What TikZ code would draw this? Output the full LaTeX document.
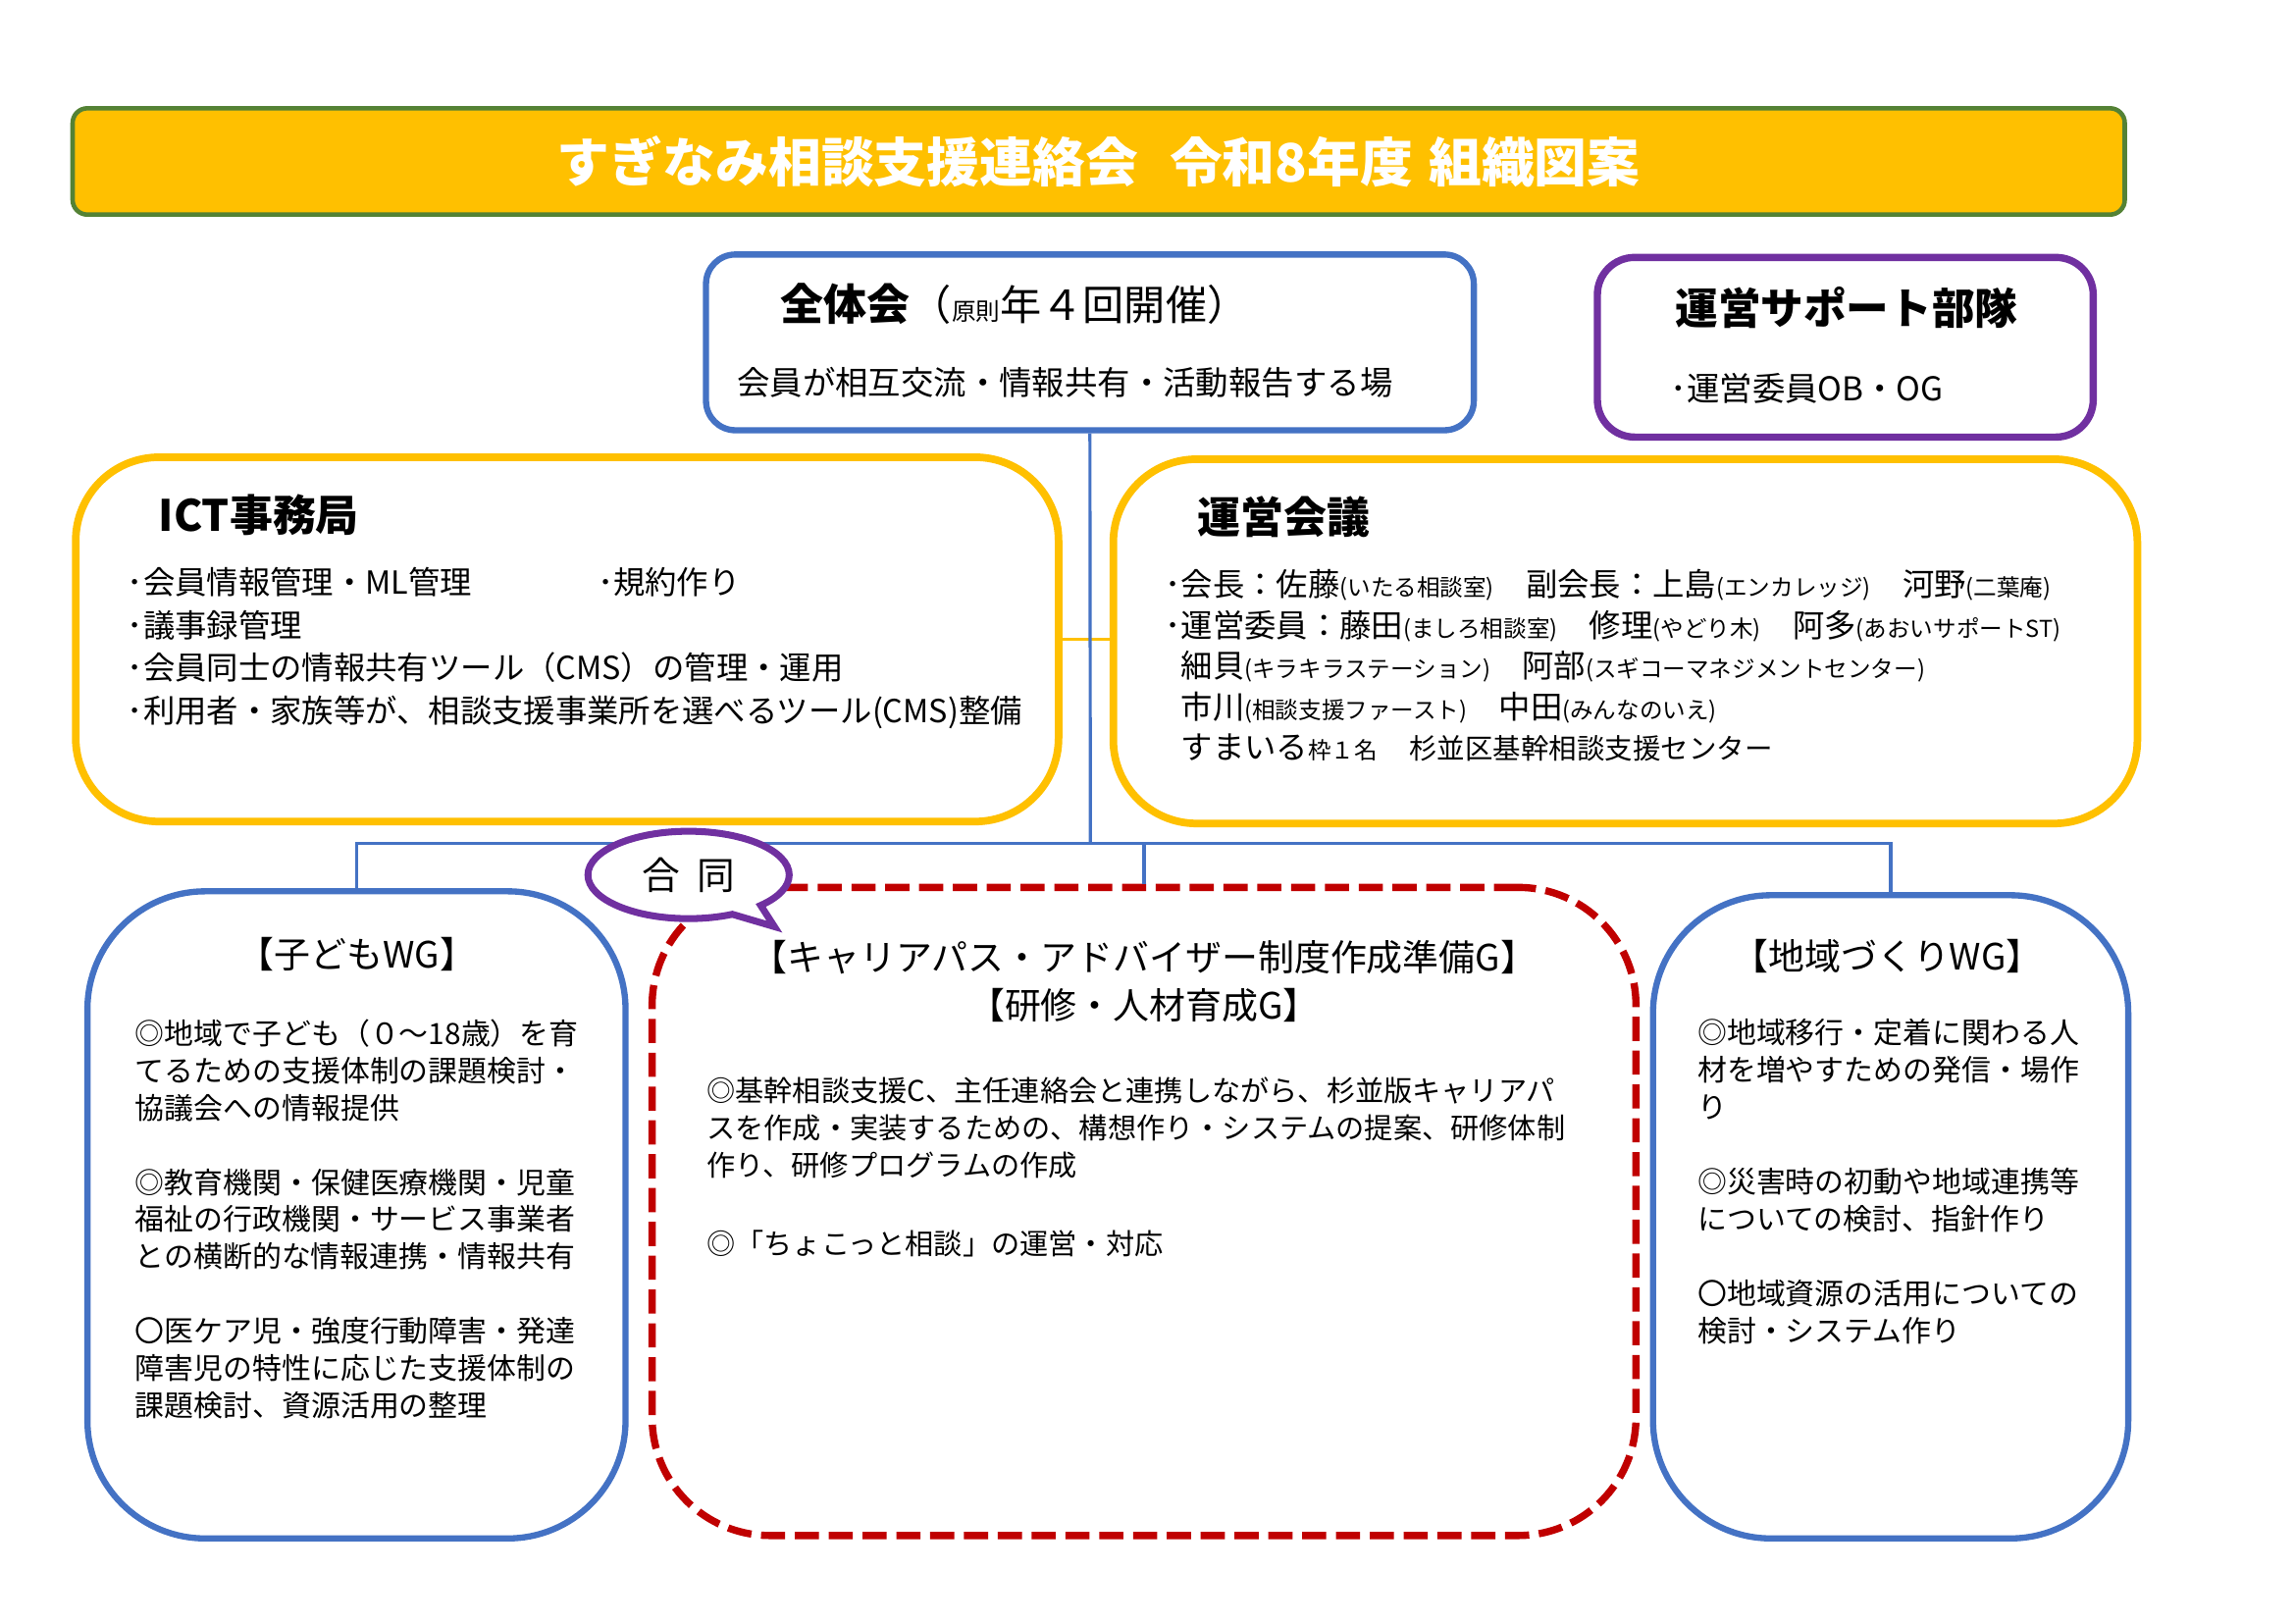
\documentclass[tikz,border=0pt]{standalone}
\usepackage{fontspec}
\setmainfont{Noto Sans CJK JP}
\usetikzlibrary{shapes.callouts}
\definecolor{cBlue}{HTML}{4472C4}
\definecolor{cYel}{HTML}{FFC000}
\definecolor{cPur}{HTML}{7030A0}
\definecolor{cRed}{HTML}{C00000}
\definecolor{cGrn}{HTML}{548235}
\newcommand\smtext[1]{{\fontsize{6.7}{8}\selectfont #1}}
\begin{document}
\begin{tikzpicture}[x=0.00994cm,y=-0.00994cm,
  box/.style={inner sep=0pt, fill=white},
  bluebox/.style={box, draw=cBlue, line width=1.8pt},
  yelbox/.style={box, draw=cYel, line width=2.2pt, rounded corners=0.85cm},
  head/.style={anchor=west, inner sep=0pt, font=\fontsize{12.5}{15}\selectfont\bfseries},
  line1/.style={anchor=west, inner sep=0pt},
  txt/.style={anchor=north west, inner sep=0pt, align=left},
  wg/.style={txt, font=\fontsize{8.5}{10.8}\selectfont},
  wgtitle/.style={inner sep=0pt, font=\fontsize{10.5}{14.2}\selectfont, align=center},
  conn/.style={draw=cBlue, line width=0.9pt},
  yconn/.style={draw=cYel, line width=0.9pt}]
\useasboundingbox (0,0) rectangle (2352.1,1664.0);

% title bar
\node[box, draw=cGrn, fill=cYel, line width=1.3pt, rounded corners=0.15cm,
  minimum width=20.90cm, minimum height=1.083cm,
  font=\fontsize{15.3}{18}\selectfont\bfseries, text=white] (title) at (1126.5,165.5)
  {すぎなみ相談支援連絡会\hspace{0.6em}令和8年度\hspace{0.3em}組織図案};

% 全体会
\node[bluebox, rounded corners=0.3cm, minimum width=7.82cm, minimum height=1.79cm] (zentai) at (1117.5,351) {};
\node[line1] (zentaiT) at (800,312) {{\fontsize{12.5}{15}\selectfont\bfseries 全体会}{\fontsize{12}{15}\selectfont （}{\fontsize{7}{9}\selectfont 原則}{\fontsize{12}{15}\selectfont 年４回開催）}};
\node[line1, font=\fontsize{9.5}{12}\selectfont] (zentaiD) at (755,392) {会員が相互交流・情報共有・活動報告する場};

% 運営サポート部隊
\node[box, draw=cPur, line width=2.1pt, rounded corners=0.38cm, minimum width=5.05cm, minimum height=1.83cm] (support) at (1892,356) {};
\node[head, font=\fontsize{12.4}{15}\selectfont\bfseries] (supportT) at (1717,315) {運営サポート部隊};
\node[line1, font=\fontsize{9.5}{12}\selectfont] (supportD) at (1712,398) {･運営委員OB・OG};

% ICT事務局
\node[yelbox, minimum width=10.01cm, minimum height=3.71cm] (ict) at (581.5,655.5) {};
\node[head] (ictT) at (162,528) {ICT事務局};
\node[txt, font=\fontsize{9.2}{12.4}\selectfont] (ictD) at (130,581)
  {･会員情報管理・ML管理\\･議事録管理\\･会員同士の情報共有ツール（CMS）の管理・運用\\･利用者・家族等が、相談支援事業所を選べるツール(CMS)整備};
\node[line1, font=\fontsize{9.2}{12.4}\selectfont] (ictD2) at (612,597) {･規約作り};

% 運営会議
\node[yelbox, minimum width=10.43cm, minimum height=3.71cm] (unei) at (1666.5,657.5) {};
\node[head] (ueiT) at (1227,530) {運営会議};
\node[txt, font=\fontsize{9.2}{11.8}\selectfont] (ueiD) at (1194,583)
  {･会長：佐藤\smtext{(いたる相談室)}\hspace{1em}副会長：上島\smtext{(エンカレッジ)}\hspace{1em}河野\smtext{(二葉庵)}\\
   ･運営委員：藤田\smtext{(ましろ相談室)}\hspace{1em}修理\smtext{(やどり木)}\hspace{1em}阿多\smtext{(あおいサポートST)}\\
   \phantom{･}細貝\smtext{(キラキラステーション)}\hspace{1em}阿部\smtext{(スギコーマネジメントセンター)}\\
   \phantom{･}市川\smtext{(相談支援ファースト)}\hspace{1em}中田\smtext{(みんなのいえ)}\\
   \phantom{･}すまいる\smtext{枠１名}\hspace{1em}{\fontsize{8.1}{11.8}\selectfont 杉並区基幹相談支援センター}};

% 子どもWG
\node[bluebox, rounded corners=1.2cm, minimum width=5.48cm, minimum height=6.59cm] (kodomo) at (365.5,1245.5) {};
\node[wgtitle] (kodomoT) at (366,978) {【子どもWG】};
\node[wg] (kodomoD) at (138,1044)
  {◎地域で子ども（０〜18歳）を育\\てるための支援体制の課題検討・\\協議会への情報提供\\[10.8pt]
   ◎教育機関・保健医療機関・児童\\福祉の行政機関・サービス事業者\\との横断的な情報連携・情報共有\\[10.8pt]
   〇医ケア児・強度行動障害・発達\\障害児の特性に応じた支援体制の\\課題検討、資源活用の整理};

% キャリアパス
\node[box, draw=cRed, line width=2.1pt, dash pattern=on 7pt off 2.8pt, rounded corners=1.2cm,
  minimum width=10.02cm, minimum height=6.60cm] (career) at (1173,1242) {};
\node[wgtitle] (careerT) at (1173,1006) {【キャリアパス・アドバイザー制度作成準備G】\\【研修・人材育成G】};
\node[wg, font=\fontsize{8.3}{10.8}\selectfont] (careerD) at (724,1104)
  {◎基幹相談支援C、主任連絡会と連携しながら、杉並版キャリアパ\\スを作成・実装するための、構想作り・システムの提案、研修体制\\作り、研修プログラムの作成\\[12pt]
   ◎「ちょこっと相談」の運営・対応};

% 地域づくりWG
\node[bluebox, rounded corners=1.2cm, minimum width=4.84cm, minimum height=6.55cm] (chiiki) at (1938.5,1247.5) {};
\node[wgtitle] (chiikiT) at (1935,980) {【地域づくりWG】};
\node[wg] (chiikiD) at (1740,1044)
  {◎地域移行・定着に関わる人\\材を増やすための発信・場作\\り\\[10.8pt]
   ◎災害時の初動や地域連携等\\についての検討、指針作り\\[10.8pt]
   〇地域資源の活用についての\\検討・システム作り};

% connectors
\coordinate (hub) at (1118,865);
\draw[yconn] (ict.east) -- (ict.east -| unei.west);
\draw[conn] (zentai.south) -- (hub);
\draw[conn] (kodomo.north) |- (hub) -| (chiiki.north);
\draw[conn] (career.north) -- (career.north |- hub);

% 合同 bubble
\node[ellipse callout, draw=cPur, fill=white, line width=2pt, minimum width=2.05cm, minimum height=0.89cm,
  inner sep=0pt, callout absolute pointer={(794,950)}, callout pointer arc=20,
  font=\fontsize{11}{13}\selectfont] (goudou) at (706,897) {合\hspace{5pt}同};
\end{tikzpicture}
\end{document}
